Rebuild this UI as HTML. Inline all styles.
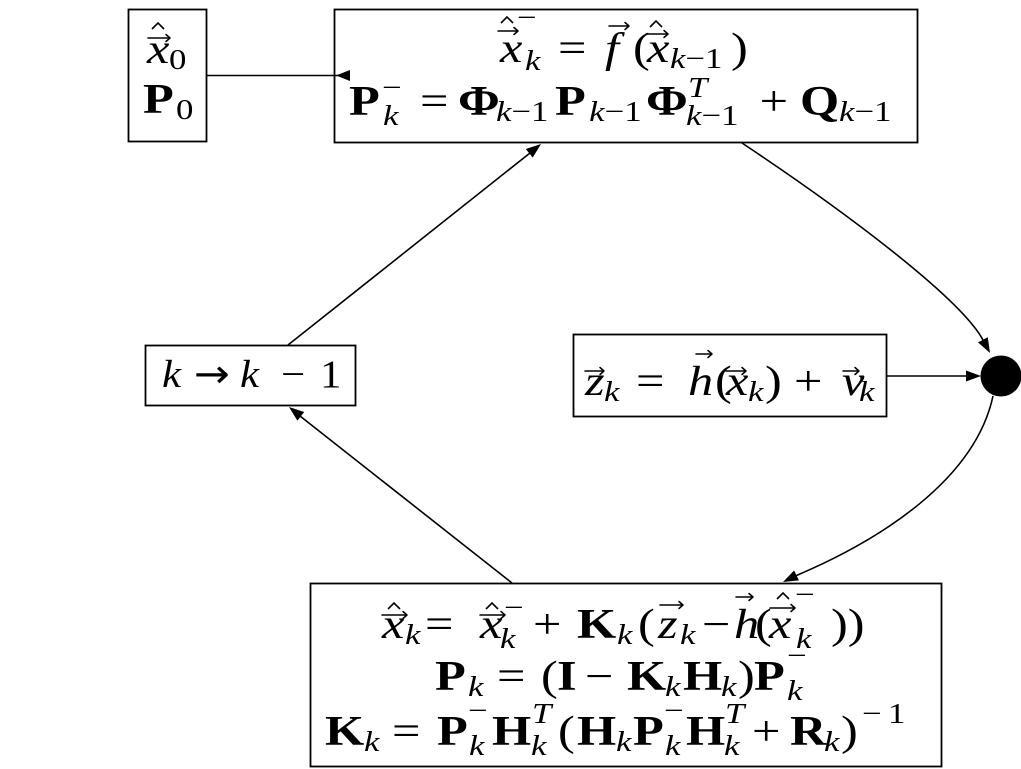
<!DOCTYPE html>
<html>
<head>
<meta charset="utf-8">
<style>
  html, body { margin: 0; padding: 0; background: #fff; }
  svg { display: block; }
  text { font-family: "Liberation Serif", "DejaVu Serif", serif; font-size: 42px; fill: #000; }
  .i { font-style: italic; }
  .b { font-weight: bold; }
  .s { font-size: 29px; }
  .k { font-size: 39px; }
  .ar { font-family: "DejaVu Sans", sans-serif; }
</style>
</head>
<body>
<svg width="1021" height="769" viewBox="0 0 1021 769" xmlns="http://www.w3.org/2000/svg">
  <rect x="0" y="0" width="1021" height="769" fill="#fff"/>

  <!-- Boxes -->
  <g fill="none" stroke="#000" stroke-width="1.8">
    <rect x="128.5" y="9.5" width="78" height="132"/>
    <rect x="334.5" y="9.5" width="583" height="133"/>
    <rect x="145.5" y="345.5" width="210" height="60"/>
    <rect x="573.5" y="334.5" width="313" height="82"/>
    <rect x="310.5" y="583.5" width="631" height="183"/>
  </g>

  <!-- Connectors -->
  <g fill="none" stroke="#000" stroke-width="1.6">
    <line x1="207" y1="75.5" x2="340" y2="75.5"/>
    <line x1="288" y1="345" x2="530" y2="153"/>
    <line x1="512" y1="583" x2="300" y2="416"/>
    <line x1="887" y1="376" x2="968" y2="376"/>
    <path d="M742,143 C850,215 961,299 983,340"/>
    <path d="M993,396 C975,480 880,540 796.5,575.5"/>
  </g>
  <g fill="#000" stroke="none">
    <polygon points="336,75.5 350,70 350,81"/>
    <polygon points="541,144 532.7,157.6 525.8,149"/>
    <polygon points="289,407 304.2,412 297.4,420.6"/>
    <polygon points="981,376 966,370.5 966,381.5"/>
    <polygon points="990,353 978,342.4 987.8,337.2"/>
    <polygon points="783,582 794.1,570.5 798.9,580.4"/>
    <circle cx="1001" cy="376" r="20.5"/>
  </g>

  <!-- Box A text -->
  <text transform="scale(1.2,1)">
    <tspan class="i" x="122.5" y="63">x</tspan>
    <tspan class="s" x="140.8" y="69">0</tspan>
    <tspan class="b" x="119.2" y="113">P</tspan>
    <tspan class="s" x="146.7" y="119">0</tspan>
  </text>

  <!-- Top box line 1 -->
  <text transform="scale(1.2,1)">
    <tspan class="i" x="416.7" y="62">x</tspan>
    <tspan class="i s" x="437.5" y="70">k</tspan>
    <tspan class="s" x="430.8" y="27">−</tspan>
    <tspan x="465" y="62">=</tspan>
    <tspan class="i" x="504.2" y="62">f</tspan>
    <tspan x="527.5" y="62">(</tspan>
    <tspan class="i" x="539.2" y="62">x</tspan>
    <tspan class="s" x="558.3" y="68"><tspan class="i">k</tspan>−1</tspan>
    <tspan x="609.2" y="62">)</tspan>
  </text>

  <!-- Top box line 2 -->
  <text transform="scale(1.2,1)">
    <tspan class="b" x="290.8" y="115">P</tspan>
    <tspan class="i s" x="319.2" y="125">k</tspan>
    <tspan class="s" x="318.3" y="97">−</tspan>
    <tspan x="350" y="115">=</tspan>
    <tspan class="b" x="381.7" y="115">Φ</tspan>
    <tspan class="s" x="413.3" y="121"><tspan class="i">k</tspan>−1</tspan>
    <tspan class="b" x="462.5" y="115">P</tspan>
    <tspan class="s" x="491" y="121"><tspan class="i">k</tspan>−1</tspan>
    <tspan class="b" x="538.3" y="115">Φ</tspan>
    <tspan class="i s" x="573.3" y="97">T</tspan>
    <tspan class="s" x="571.7" y="125"><tspan class="i">k</tspan>−1</tspan>
    <tspan x="633" y="115">+</tspan>
    <tspan class="b" x="666.7" y="115">Q</tspan>
    <tspan class="s" x="699.2" y="121"><tspan class="i">k</tspan>−1</tspan>
  </text>

  <!-- k box -->
  <text class="k" transform="scale(1.1,1)">
    <tspan class="i" x="147.3" y="387">k</tspan>
    <tspan class="ar" x="176.4" y="387">→</tspan>
    <tspan class="i" x="218.2" y="387">k</tspan>
    <tspan x="255.5" y="387">−</tspan>
    <tspan x="290.9" y="387">1</tspan>
  </text>

  <!-- z box -->
  <text transform="scale(1.2,1)">
    <tspan class="i" x="487.5" y="395">z</tspan>
    <tspan class="i s" x="503.3" y="401">k</tspan>
    <tspan x="530" y="395">=</tspan>
    <tspan class="i" x="573.3" y="395">h</tspan>
    <tspan x="595.8" y="395">(</tspan>
    <tspan class="i" x="605" y="395">x</tspan>
    <tspan class="i s" x="623.3" y="401">k</tspan>
    <tspan x="637.5" y="395">)</tspan>
    <tspan x="661.7" y="395">+</tspan>
    <tspan class="i" x="701.7" y="395">v</tspan>
    <tspan class="i s" x="715.8" y="401">k</tspan>
  </text>

  <!-- Bottom line 1 -->
  <text transform="scale(1.2,1)">
    <tspan class="i" x="318.3" y="638">x</tspan>
    <tspan class="i s" x="337.5" y="644">k</tspan>
    <tspan x="354.2" y="638">=</tspan>
    <tspan class="i" x="400" y="638">x</tspan>
    <tspan class="i s" x="416.7" y="648">k</tspan>
    <tspan class="s" x="420" y="617">−</tspan>
    <tspan x="444.2" y="638">+</tspan>
    <tspan class="b" x="480.8" y="638">K</tspan>
    <tspan class="i s" x="514.2" y="644">k</tspan>
    <tspan x="531.7" y="638">(</tspan>
    <tspan class="i" x="548.3" y="638">z</tspan>
    <tspan class="i s" x="566.7" y="644">k</tspan>
    <tspan x="585" y="638">−</tspan>
    <tspan class="i" x="611.7" y="638">h</tspan>
    <tspan x="629.2" y="638">(</tspan>
    <tspan class="i" x="640.8" y="638">x</tspan>
    <tspan class="i s" x="663.3" y="648">k</tspan>
    <tspan class="s" x="662.5" y="604">−</tspan>
    <tspan x="692.5" y="638">))</tspan>
  </text>

  <!-- Bottom line 2 -->
  <text transform="scale(1.2,1)">
    <tspan class="b" x="362.5" y="690">P</tspan>
    <tspan class="i s" x="390" y="696">k</tspan>
    <tspan x="414.2" y="690">=</tspan>
    <tspan x="450.8" y="690">(</tspan>
    <tspan class="b" x="464.2" y="690">I</tspan>
    <tspan x="487.5" y="690">−</tspan>
    <tspan class="b" x="522.5" y="690">K</tspan>
    <tspan class="i s" x="554.2" y="696">k</tspan>
    <tspan class="b" x="569.2" y="690">H</tspan>
    <tspan class="i s" x="600.8" y="696">k</tspan>
    <tspan x="615" y="690">)</tspan>
    <tspan class="b" x="628.3" y="690">P</tspan>
    <tspan class="i s" x="655.8" y="700">k</tspan>
    <tspan class="s" x="655.8" y="665">−</tspan>
  </text>

  <!-- Bottom line 3 -->
  <text transform="scale(1.2,1)">
    <tspan class="b" x="270.8" y="745">K</tspan>
    <tspan class="i s" x="303.3" y="751">k</tspan>
    <tspan x="326.7" y="745">=</tspan>
    <tspan class="b" x="364.2" y="745">P</tspan>
    <tspan class="i s" x="390.8" y="755">k</tspan>
    <tspan class="s" x="390" y="720">−</tspan>
    <tspan class="b" x="410" y="745">H</tspan>
    <tspan class="i s" x="442.5" y="755">k</tspan>
    <tspan class="i s" x="443.3" y="723">T</tspan>
    <tspan x="465" y="745">(</tspan>
    <tspan class="b" x="480.8" y="745">H</tspan>
    <tspan class="i s" x="513.3" y="751">k</tspan>
    <tspan class="b" x="527.5" y="745">P</tspan>
    <tspan class="i s" x="554.2" y="755">k</tspan>
    <tspan class="s" x="553.3" y="720">−</tspan>
    <tspan class="b" x="571.7" y="745">H</tspan>
    <tspan class="i s" x="603.3" y="755">k</tspan>
    <tspan class="i s" x="604.2" y="723">T</tspan>
    <tspan x="626.7" y="745">+</tspan>
    <tspan class="b" x="658.3" y="745">R</tspan>
    <tspan class="i s" x="686.7" y="751">k</tspan>
    <tspan x="700.8" y="745">)</tspan>
    <tspan class="s" x="718.3" y="723">−</tspan>
    <tspan class="s" x="740" y="723">1</tspan>
  </text>

  <!-- Accents: vector arrows -->
  <g fill="none" stroke="#000" stroke-width="1.5" stroke-linecap="round" stroke-linejoin="round">
    <path d="M148,38 H170 M166,34.5 L170,38 L166,41.5"/>
    <path d="M498,31 H518 M514,27.5 L518,31 L514,34.5"/>
    <path d="M609,26 H629 M625,22.5 L629,26 L625,29.5"/>
    <path d="M646,34 H668 M664,30.5 L668,34 L664,37.5"/>
    <path d="M585,371 H604 M600,367.5 L604,371 L600,374.5"/>
    <path d="M696,354 H712 M708,350.5 L712,354 L708,357.5"/>
    <path d="M726,371 H746 M742,367.5 L746,371 L742,374.5"/>
    <path d="M843,371 H859 M855,367.5 L859,371 L855,374.5"/>
    <path d="M382,615 H407 M403,611.5 L407,615 L403,618.5"/>
    <path d="M480,615 H505 M501,611.5 L505,615 L501,618.5"/>
    <path d="M660,605 H683 M679,601.5 L683,605 L679,608.5"/>
    <path d="M736,597 H753 M749,593.5 L753,597 L749,600.5"/>
    <path d="M770,608 H795 M791,604.5 L795,608 L791,611.5"/>
  </g>
  <!-- Accents: hats -->
  <g fill="none" stroke="#000" stroke-width="1.6" stroke-linejoin="miter">
    <path d="M152,29 L158,23 L164,29"/>
    <path d="M501,23 L507,17 L513,23"/>
    <path d="M650,27 L656,21 L662,27"/>
    <path d="M388,609 L394,603 L400,609"/>
    <path d="M486,609 L492,603 L498,609"/>
    <path d="M777,599 L783,593 L789,599"/>
  </g>
</svg>
</body>
</html>
